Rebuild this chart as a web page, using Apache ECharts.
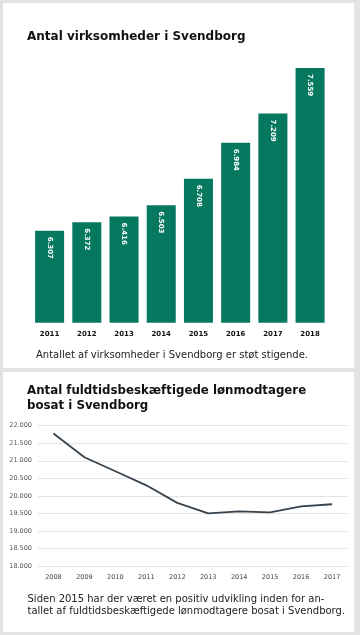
<!DOCTYPE html>
<html><head><meta charset="utf-8">
<script src="https://cdn.jsdelivr.net/npm/echarts@6/dist/echarts.min.js"></script>
<style>
html,body{margin:0;padding:0;background:#e3e3e3;width:360px;height:635px;overflow:hidden}
.panel{position:absolute;background:#fff}
#chart{position:absolute;left:0;top:0;width:360px;height:635px}
</style></head>
<body>
<div class="panel" style="left:3px;top:3px;width:351px;height:365px"></div>
<div class="panel" style="left:3px;top:372px;width:351px;height:260px"></div>
<div id="chart"></div>
<script>
const barYears = ['2011','2012','2013','2014','2015','2016','2017','2018'];
const barValues = [6307, 6372, 6416, 6503, 6708, 6984, 7209, 7559];
const lineYears = ['2008','2009','2010','2011','2012','2013','2014','2015','2016','2017'];
const lineValues = [21780, 21100, 20700, 20300, 19800, 19500, 19560, 19530, 19700, 19760];
const title1 = 'Antal virksomheder i Svendborg';
const caption1 = 'Antallet af virksomheder i Svendborg er støt stigende.';
const title2 = 'Antal fuldtidsbeskæftigede lønmodtagere\nbosat i Svendborg';
const caption2 = 'Siden 2015 har der været en positiv udvikling inden for an-\ntallet af fuldtidsbeskæftigede lønmodtagere bosat i Svendborg.';

const FONT = 'DejaVu Sans';
const dk = v => String(v).replace(/\B(?=(\d{3})+(?!\d))/g, '.');

const chart = echarts.init(document.getElementById('chart'), null, {renderer:'canvas'});
chart.setOption({
  backgroundColor: 'transparent',
  animation: false,
  textStyle: {fontFamily: FONT},
  title: [
    {text: title1, left: 27, top: 31, textStyle:{fontFamily:FONT, fontSize:12, fontWeight:'bold', color:'#111'}, padding:0},
    {text: caption1, left: 36, top: 350, textStyle:{fontFamily:FONT, fontSize:10, fontWeight:'normal', color:'#222'}, padding:0},
    {text: title2, left: 27, top: 384, textStyle:{fontFamily:FONT, fontSize:11.8, fontWeight:'bold', color:'#111', lineHeight:14.5}, padding:0},
    {text: caption2, left: 27.5, top: 593, textStyle:{fontFamily:FONT, fontSize:10, fontWeight:'normal', color:'#222', lineHeight:12}, padding:0}
  ],
  grid: [
    {left: 31, right: 31.3, top: 62.7, bottom: 312.3},
    {left: 38, right: 12.5, top: 425.7, bottom: 69}
  ],
  xAxis: [
    {gridIndex:0, type:'category', data: barYears,
     axisLine:{show:false}, axisTick:{show:false},
     axisLabel:{fontFamily:FONT, fontSize:7, fontWeight:'bold', color:'#111', margin:8}},
    {gridIndex:1, type:'category', data: lineYears, boundaryGap:true,
     axisLine:{show:false}, axisTick:{show:false},
     axisLabel:{fontFamily:FONT, fontSize:6.5, color:'#444', margin:8}}
  ],
  yAxis: [
    {gridIndex:0, type:'value', min:5600, max:7600, show:false},
    {gridIndex:1, type:'value', min:18000, max:22000, interval:500,
     axisLine:{show:false}, axisTick:{show:false},
     splitLine:{lineStyle:{color:'#e4e4e4', width:1}},
     axisLabel:{fontFamily:FONT, fontSize:6.5, color:'#555', margin:6, formatter: v => dk(v)}}
  ],
  series: [
    {type:'bar', xAxisIndex:0, yAxisIndex:0, data: barValues, barCategoryGap:'22%',
     itemStyle:{color:'#05785f'},
     label:{show:true, position:'insideTop', rotate:-90, align:'left', verticalAlign:'middle', distance:6,
       fontFamily:FONT, fontSize:7, fontWeight:'bold', color:'#fff', formatter: p => dk(p.value)}},
    {type:'line', xAxisIndex:1, yAxisIndex:1, data: lineValues, showSymbol:false, symbol:'none',
     lineStyle:{color:'#37424c', width:1.8}}
  ]
});
</script>
</body></html>
